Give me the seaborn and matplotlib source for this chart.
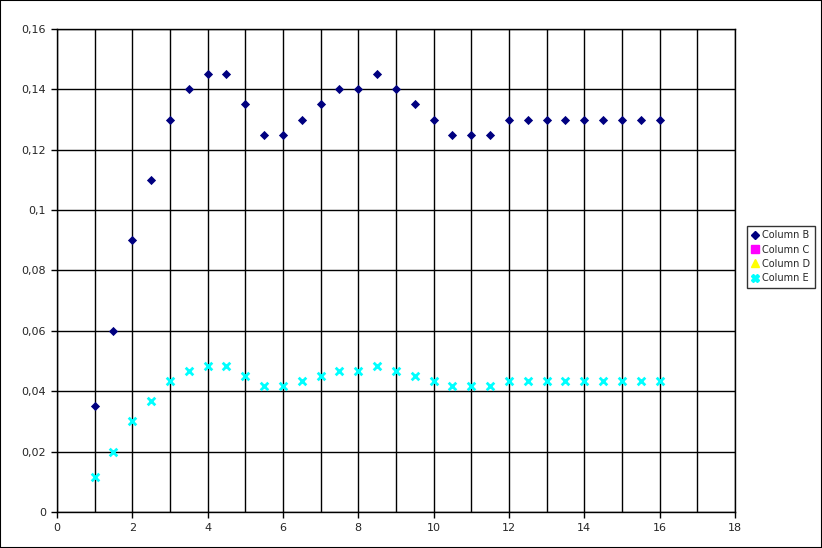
import pandas as pd
import seaborn as sns
import matplotlib.pyplot as plt
from matplotlib.ticker import MultipleLocator, FuncFormatter
from matplotlib.lines import Line2D
from matplotlib.patches import Rectangle

x_vals = [1, 1.5, 2, 2.5, 3, 3.5, 4, 4.5, 5, 5.5, 6, 6.5, 7, 7.5, 8, 8.5,
          9, 9.5, 10, 10.5, 11, 11.5, 12, 12.5, 13, 13.5, 14, 14.5, 15, 15.5, 16]
col_b = [0.035, 0.06, 0.09, 0.11, 0.13, 0.14, 0.145, 0.145, 0.135, 0.125, 0.125,
         0.13, 0.135, 0.14, 0.14, 0.145, 0.14, 0.135, 0.13, 0.125, 0.125, 0.125,
         0.13, 0.13, 0.13, 0.13, 0.13, 0.13, 0.13, 0.13, 0.13]
col_e = [0.0117, 0.02, 0.03, 0.0367, 0.0433, 0.0467, 0.0483, 0.0483, 0.045, 0.0417,
         0.0417, 0.0433, 0.045, 0.0467, 0.0467, 0.0483, 0.0467, 0.045, 0.0433,
         0.0417, 0.0417, 0.0417, 0.0433, 0.0433, 0.0433, 0.0433, 0.0433, 0.0433,
         0.0433, 0.0433, 0.0433]
series = ["Column B", "Column C", "Column D", "Column E"]
colors = ["#000080", "#ff00ff", "#ffff00", "#00ffff"]

df = pd.DataFrame({"x": x_vals, "Column B": col_b, "Column E": col_e})

sns.set_style("white")
plt.rcParams["font.family"] = ["DejaVu Sans"]

fig = plt.figure(figsize=(8.22, 5.48), dpi=100)
ax = fig.add_axes([0.0693, 0.0657, 0.8248, 0.8814])

sns.scatterplot(data=df, x="x", y="Column B", ax=ax, marker="D", s=22,
                color=colors[0], edgecolor=colors[0], linewidth=0, zorder=3)
sns.scatterplot(data=df, x="x", y="Column E", ax=ax, marker="x", s=30,
                color=colors[3], linewidth=2, zorder=3)

ax.set_xlim(0, 18)
ax.set_ylim(0, 0.16)
ax.xaxis.set_major_locator(MultipleLocator(2))
ax.xaxis.set_minor_locator(MultipleLocator(1))
ax.yaxis.set_major_locator(MultipleLocator(0.02))
ax.yaxis.set_major_formatter(FuncFormatter(lambda v, p: ("%g" % round(v, 2)).replace(".", ",")))
ax.grid(which="both", axis="x", color="black", linewidth=1)
ax.grid(which="major", axis="y", color="black", linewidth=1)
ax.set_axisbelow(True)
ax.tick_params(axis="both", which="major", direction="out", length=4, width=1,
               color="black", labelsize=8, pad=4, left=True, bottom=True)
ax.tick_params(axis="both", which="minor", length=0)
ax.set_xlabel("")
ax.set_ylabel("")
for sp in ax.spines.values():
    sp.set_visible(True)
    sp.set_color("black")
    sp.set_linewidth(1)

handles = [Line2D([], [], linestyle="none", marker="D", markersize=4.5, color=colors[0]),
           Line2D([], [], linestyle="none", marker="s", markersize=6, color=colors[1]),
           Line2D([], [], linestyle="none", marker="^", markersize=6, color=colors[2]),
           Line2D([], [], linestyle="none", marker="X", markersize=6, color=colors[3])]
leg = fig.legend(handles, series, loc="upper left", bbox_to_anchor=(0.909, 0.588),
                 fontsize=7, frameon=True, fancybox=False, edgecolor="black",
                 handlelength=0.8, handletextpad=0.3, borderpad=0.45,
                 labelspacing=0.45, borderaxespad=0)
leg.get_frame().set_linewidth(1)

fig.patches.append(Rectangle((0, 0), 1, 1, transform=fig.transFigure, fill=False,
                             edgecolor="black", linewidth=1.5, zorder=10))

fig.savefig("out.png", dpi=100)
